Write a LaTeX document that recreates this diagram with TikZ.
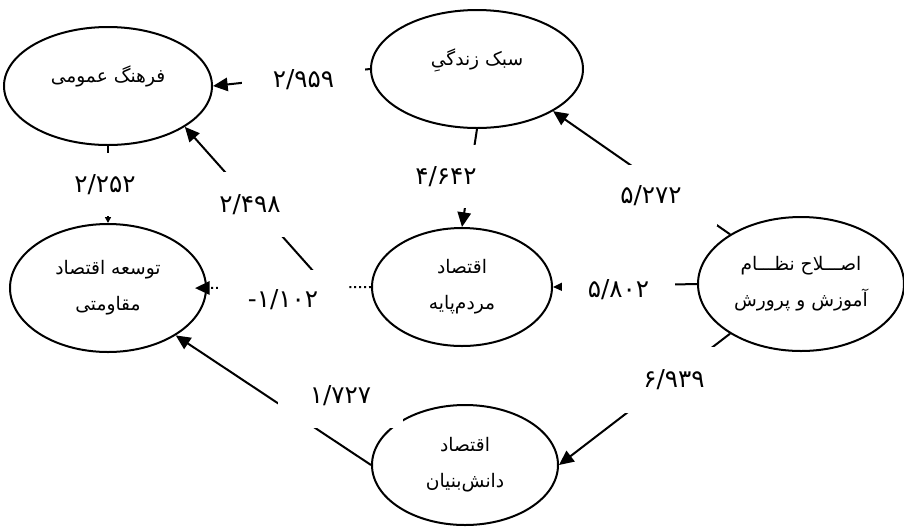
\documentclass[tikz,border=0pt]{standalone}
\usepackage{fontspec}
\newfontfamily\farsi[Script=Arabic]{DejaVu Sans}
\TeXXeTstate=1
\usetikzlibrary{shapes.geometric,arrows.meta}
\tikzset{
  factor/.style={draw,ellipse,line width=1.5pt,align=center,inner sep=0pt,
    font=\farsi\fontsize{14}{27}\selectfont},
  oneline/.style={text depth=18pt},
  link/.style={line width=1.5pt,-{Triangle[length=11pt,width=10pt]}},
  coef/.style={fill=white,inner sep=0pt,font=\farsi\fontsize{18.5}{20}\selectfont}
}
\begin{document}
\begin{tikzpicture}[x=0.75pt,y=-0.75pt]
\useasboundingbox (0,0) rectangle (904,526);
\node[factor,oneline,minimum width=156pt,minimum height=88.5pt] (farhang) at (108,86) {\beginR فرهنگ عمومی\endR};
\node[factor,oneline,minimum width=159pt,minimum height=88.5pt] (sabk) at (477,69) {\beginR سبک زندگیِ\endR};
\node[factor,minimum width=147pt,minimum height=96pt] (tose) at (108,288) {\beginR توسعه اقتصاد\endR\\\beginR مقاومتی\endR};
\node[factor,minimum width=135pt,minimum height=88.5pt] (mardom) at (462,287) {\beginR اقتصاد\endR\\\beginR مردم‌پایه\endR};
\node[factor,minimum width=154.5pt,minimum height=100.5pt] (eslah) at (801,284) {\beginR اصـــلاح نظـــام\endR\\\beginR آموزش و پرورش\endR};
\node[factor,minimum width=139.5pt,minimum height=90pt] (danesh) at (465,465) {\beginR اقتصاد\endR\\\beginR دانش‌بنیان\endR};

\draw[link] (sabk.west) -- (farhang.east);
\draw[link] (sabk.south) -- (mardom.north);
\draw[link] (eslah.145) -- (sabk.331);
\draw[link] (eslah.west) -- (mardom.east);
\draw[link] (eslah.215) -- (danesh.east);
\coordinate (f0) at (330,290);
\draw[link] (f0) -- (farhang.332);
\draw[link,dash pattern=on 1.5pt off 2.2pt,shorten >=-9pt] (mardom.west) -- (tose.east);
\draw[line width=1.5pt,-{Triangle[length=4.5pt,width=4.5pt]}] (farhang.south) -- (tose.north);
\draw[link] (danesh.west) -- (tose.325);

% path coefficients
\node[coef,minimum width=92.25pt,minimum height=37.5pt] (c1) at (303.5,80) {۲/۹۵۹};
\node[coef,minimum width=69pt,minimum height=47.25pt] (c2) at (446,176.5) {۴/۶۴۲};
\node[coef,minimum width=99pt,minimum height=45.75pt] (c3) at (651,195.5) {۵/۲۷۲};
\node[coef,minimum width=84.75pt,minimum height=37.5pt] (c4) at (618.5,290) {۵/۸۰۲};
\node[coef,minimum width=81pt,minimum height=49.5pt] (c5) at (674,380) {۶/۹۳۹};
\node[coef,minimum width=57pt,minimum height=48.75pt] (c6) at (250,204.5) {۲/۴۹۸};
\node[coef,minimum width=97.5pt,minimum height=45pt] (c7) at (283,300) {\mbox{-}\mbox{۱/۱۰۲}};
\node[coef,minimum width=67.5pt,minimum height=47.25pt] (c8) at (105,184.5) {۲/۲۵۲};
\node[coef,minimum width=93.75pt,minimum height=48pt] (c9) at (340.5,396) {۱/۷۲۷};
\end{tikzpicture}
\end{document}
